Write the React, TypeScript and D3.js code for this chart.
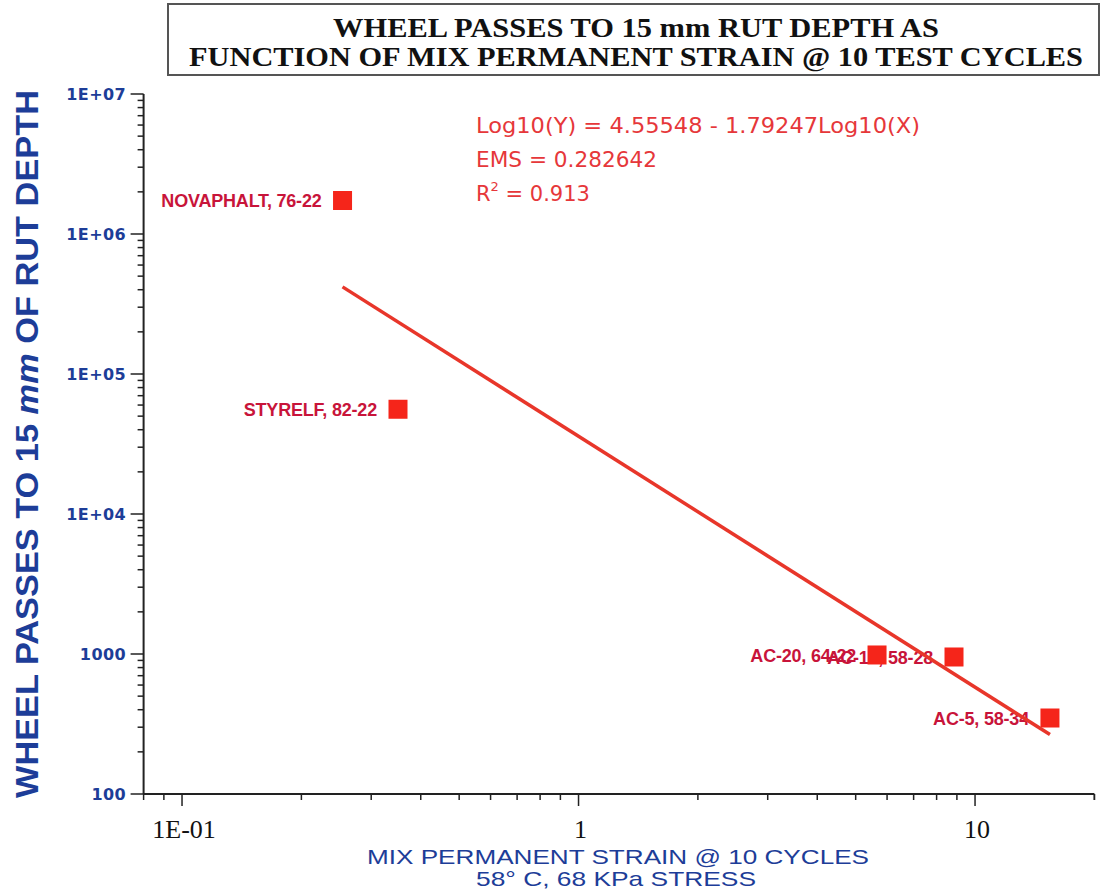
import React from "react";
import * as d3 from "d3";

const names = ["NOVAPHALT, 76-22", "STYRELF, 82-22", "AC-20, 64-22", "AC-10, 58-28", "AC-5, 58-34"];
const strain = [0.254, 0.3505, 5.66, 8.85, 15.45];
const passes = [1735000, 56000, 984, 952, 349];
const yTickValues = [100, 1000, 1e4, 1e5, 1e6, 1e7];
const yTickLabels = ["100", "1000", "1E+04", "1E+05", "1E+06", "1E+07"];
const xTickValues = [0.1, 1, 10];
const xTickLabels = ["1E-01", "1", "10"];
const fitA = 4.55548;
const fitB = -1.79247;
const titleLines = ["WHEEL PASSES TO 15 mm RUT DEPTH AS", "FUNCTION OF MIX PERMANENT STRAIN @ 10 TEST CYCLES"];

const W = 1104, H = 893;
const BLUE = "#1d3d98";
const RED_PT = "#f5251a";
const RED_LBL = "#c8143a";
const RED_TXT = "#e6373a";

export default function App() {
  const x = d3.scaleLog().domain([0.08, 20]).range([143.6, 1094.4]);
  const y = d3.scaleLog().domain([100, 1e7]).range([794, 94]);

  const xMinor: number[] = [];
  for (let d = 0.01; d <= 10; d *= 10) {
    for (let k = 1; k <= 9; k++) {
      const v = +(k * d).toPrecision(3);
      if (v >= 0.08 && v <= 20.0001) xMinor.push(v);
    }
  }
  xMinor.push(20);
  const yMinor: number[] = [];
  for (let d = 100; d < 1e7; d *= 10) {
    for (let k = 2; k <= 9; k++) yMinor.push(k * d);
  }

  const xs = d3.extent(strain) as [number, number];
  const fitPts: [number, number][] = xs.map((v) => [v, Math.pow(10, fitA + fitB * Math.log10(v))]);
  const line = d3.line<[number, number]>().x((d) => x(d[0])).y((d) => y(d[1]));

  return (
    <svg width={W} height={H} style={{ position: "absolute", left: 0, top: 0, background: "#fff" }}>
      {/* title box */}
      <rect x={168} y={4} width={931} height={71} fill="#fff" stroke="#555" strokeWidth={2} />
      {titleLines.map((t, i) => (
        <text key={i} x={636} y={37 + i * 29} textAnchor="middle" fontFamily="Liberation Serif, serif" fontWeight="bold" fontSize={28}
          textLength={i === 0 ? 606 : 894} lengthAdjust="spacingAndGlyphs" fill="#111">{t}</text>
      ))}

      {/* axes */}
      <line x1={x(0.08)} x2={x(20)} y1={y(100)} y2={y(100)} stroke="#222" strokeWidth={2} />
      <line x1={x(0.08)} x2={x(0.08)} y1={y(100)} y2={y(1e7)} stroke="#222" strokeWidth={2} />
      {xMinor.map((v, i) => (
        <line key={"xm" + i} x1={x(v)} x2={x(v)} y1={y(100)} y2={y(100) + (xTickValues.includes(v) ? 12 : 6)} stroke="#222" strokeWidth={1.5} />
      ))}
      {yMinor.map((v, i) => (
        <line key={"ym" + i} x1={x(0.08) - 6} x2={x(0.08)} y1={y(v)} y2={y(v)} stroke="#222" strokeWidth={1.5} />
      ))}
      {yTickValues.map((v, i) => (
        <g key={"yt" + i}>
          <line x1={x(0.08) - 13} x2={x(0.08)} y1={y(v)} y2={y(v)} stroke="#222" strokeWidth={1.5} />
          <text x={126} y={y(v) + 6} textAnchor="end" fontFamily="DejaVu Sans, sans-serif" fontWeight="bold" fontSize={16} letterSpacing={0.4} fill={BLUE}>{yTickLabels[i]}</text>
        </g>
      ))}
      {xTickValues.map((v, i) => (
        <text key={"xt" + i} x={x(v) + 2} y={838} textAnchor="middle" fontFamily="Liberation Serif, serif" fontSize={26} fill="#111">{xTickLabels[i]}</text>
      ))}

      {/* axis titles */}
      <text transform={`translate(38,444) rotate(-90)`} textAnchor="middle" fontFamily="Liberation Sans, Arial, sans-serif" fontWeight="bold" fontSize={31}
        textLength={708} lengthAdjust="spacingAndGlyphs" fill={BLUE}>WHEEL PASSES TO 15 <tspan fontStyle="italic">mm</tspan> OF RUT DEPTH</text>
      <text x={618} y={864} textAnchor="middle" fontFamily="Liberation Sans, Arial, sans-serif" fontSize={21} textLength={502} lengthAdjust="spacingAndGlyphs" fill={BLUE}>MIX PERMANENT STRAIN @ 10 CYCLES</text>
      <text x={616} y={886} textAnchor="middle" fontFamily="Liberation Sans, Arial, sans-serif" fontSize={21} textLength={280} lengthAdjust="spacingAndGlyphs" fill={BLUE}>58° C, 68 KPa STRESS</text>

      {/* annotation */}
      <g fontFamily="DejaVu Sans, sans-serif" fontSize={21} fill={RED_TXT}>
        <text x={476} y={133} textLength={444} lengthAdjust="spacingAndGlyphs">Log10(Y) = 4.55548 - 1.79247Log10(X)</text>
        <text x={476} y={167} textLength={181} lengthAdjust="spacingAndGlyphs">EMS = 0.282642</text>
        <text x={476} y={201}>R<tspan dy={-10} fontSize={13}>2</tspan><tspan dy={10}> = 0.913</tspan></text>
      </g>

      {/* labels */}
      {names.map((n, i) => (
        <text key={"l" + i} x={x(strain[i]) - 21} y={y(passes[i]) + 7} textAnchor="end" fontFamily="Liberation Sans, Arial, sans-serif" fontWeight="bold" fontSize={18} letterSpacing={-0.2} fill={RED_LBL}>{n}</text>
      ))}
      {/* points */}
      {names.map((n, i) => (
        <rect key={"p" + i} x={x(strain[i]) - 9.5} y={y(passes[i]) - 9.5} width={19} height={19} fill={RED_PT} />
      ))}
      {/* fit line */}
      <path d={line(fitPts) || ""} fill="none" stroke="#e8362a" strokeWidth={3.5} />
    </svg>
  );
}
